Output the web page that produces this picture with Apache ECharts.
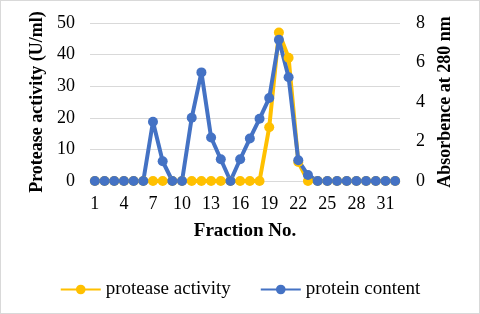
<!DOCTYPE html>
<html><head><meta charset="utf-8">
<script src="https://cdn.jsdelivr.net/npm/echarts@6/dist/echarts.min.js"></script>
<style>html,body{margin:0;padding:0;background:#fff}#c{width:480px;height:314px;box-sizing:border-box;border:1px solid #d9d9d9}</style>
</head><body><div id="c"></div>
<script>
const fractions = Array.from({length:32},(_,i)=>String(i+1));
const proteaseActivity = [0,0,0,0,0,0,0,0,0,0,0,0,0,0,0,0,0,0,17,47,39,6,0,0,0,0,0,0,0,0,0,0];
const proteinContent = [0,0,0,0,0,0,3.0,1.0,0,0,3.2,5.5,2.2,1.1,0,1.1,2.15,3.15,4.2,7.15,5.25,1.05,0.3,0,0,0,0,0,0,0,0,0];
const leftTicks = {min:0,max:50,interval:10};
const rightTicks = {min:0,max:8,interval:2};
const font = '"Liberation Serif","Times New Roman",serif';
const chart = echarts.init(document.getElementById('c'));
chart.setOption({
  animation:false,
  grid:{left:89,right:79,top:22,bottom:132},
  legend:{top:274,left:'center',itemWidth:40,itemHeight:12,itemGap:29,
    textStyle:{fontFamily:font,fontSize:19,color:'#000'},
    data:['protease activity','protein content']},
  xAxis:{type:'category',data:fractions,boundaryGap:true,
    name:'Fraction No.',nameLocation:'middle',nameGap:41,
    nameTextStyle:{fontFamily:font,fontSize:19,fontWeight:'bold',color:'#000'},
    axisLine:{show:false},axisTick:{show:false},
    axisLabel:{interval:2,fontFamily:font,fontSize:18,color:'#000',margin:14}},
  yAxis:[{type:'value',min:leftTicks.min,max:leftTicks.max,interval:leftTicks.interval,
    name:'Protease activity (U/ml)',nameLocation:'middle',nameRotate:90,nameGap:43,
    nameTextStyle:{fontFamily:font,fontSize:18,fontWeight:'bold',color:'#000'},
    axisLabel:{fontFamily:font,fontSize:18,color:'#000',margin:15},
    splitLine:{lineStyle:{color:'#d9d9d9',width:1}},axisLine:{show:false},axisTick:{show:false}},
   {type:'value',min:rightTicks.min,max:rightTicks.max,interval:rightTicks.interval,position:'right',
    name:'Absorbence at 280 nm',nameLocation:'middle',nameRotate:90,nameGap:36,
    nameTextStyle:{fontFamily:font,fontSize:18,fontWeight:'bold',color:'#000'},
    axisLabel:{fontFamily:font,fontSize:18,color:'#000',margin:16},
    splitLine:{show:false},axisLine:{show:false},axisTick:{show:false}}],
  series:[
    {name:'protease activity',type:'line',yAxisIndex:0,data:proteaseActivity,showAllSymbol:true,
     symbol:'circle',symbolSize:10,itemStyle:{color:'#FFC000'},lineStyle:{color:'#FFC000',width:4}},
    {name:'protein content',type:'line',yAxisIndex:1,data:proteinContent,showAllSymbol:true,
     symbol:'circle',symbolSize:10,itemStyle:{color:'#4472C4'},lineStyle:{color:'#4472C4',width:4}}
  ]
});
</script></body></html>
